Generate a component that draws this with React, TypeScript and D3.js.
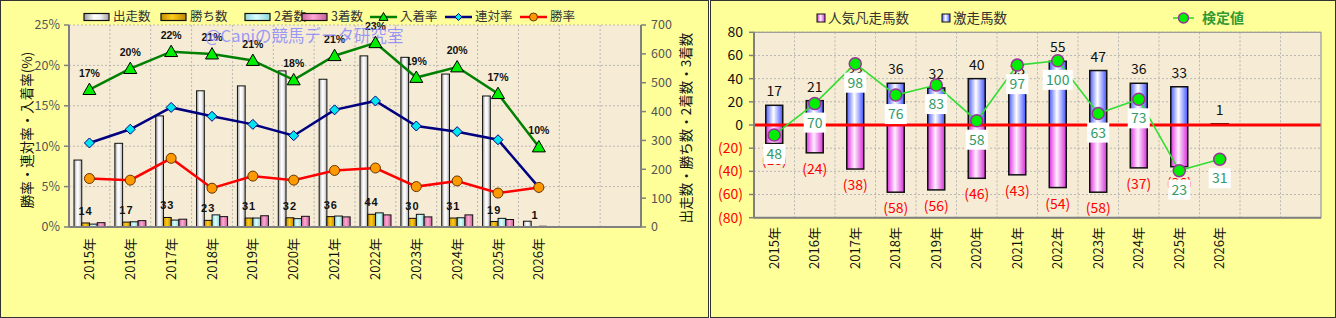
import React from "react";
import * as d3 from "d3";

// ---------- data ----------
const years = ["2015年", "2016年", "2017年", "2018年", "2019年", "2020年", "2021年", "2022年", "2023年", "2024年", "2025年", "2026年"];
const runs = [232, 290, 385, 472, 489, 541, 512, 593, 588, 530, 454, 20];
const wins = [14, 17, 33, 23, 31, 32, 36, 44, 30, 31, 19, 1];
const seconds = [10, 18, 24, 42, 31, 29, 38, 49, 44, 32, 30, 0];
const thirds = [15, 22, 27, 36, 39, 37, 35, 42, 35, 42, 26, 1];
const winRate = [6.0, 5.8, 8.5, 4.8, 6.3, 5.8, 7.0, 7.3, 5.0, 5.7, 4.2, 4.9];
const rentaiRate = [10.4, 12.1, 14.8, 13.7, 12.7, 11.3, 14.5, 15.6, 12.5, 11.8, 10.8, 4.9];
const placeRate = [17.0, 19.6, 21.7, 21.4, 20.6, 18.2, 21.2, 22.8, 18.5, 19.8, 16.5, 9.9];
const placeRateLabels = ["17%", "20%", "22%", "21%", "21%", "18%", "21%", "23%", "19%", "20%", "17%", "10%"];
const leftTicks = [0, 5, 10, 15, 20, 25];
const rightTicks = [0, 100, 200, 300, 400, 500, 600, 700];

const gekisou = [17, 21, 33, 36, 32, 40, 35, 55, 47, 36, 33, 1];
const bonsou = [16, 24, 38, 58, 56, 46, 43, 54, 58, 37, 36, 0];
const testValues = [48, 70, 98, 76, 83, 58, 97, 100, 63, 73, 23, 31];
const rTicks = [80, 60, 40, 20, 0, -20, -40, -60, -80];

const SLOTS = 14;
const FONT = '"Noto Sans CJK JP", "Noto Sans", sans-serif';

export default function App() {
  // ---- left chart scales ----
  const L = { x0: 69, x1: 641, top: 25, bottom: 227 };
  const xL = d3.scaleBand<number>().domain(d3.range(SLOTS)).range([L.x0, L.x1]);
  const yPct = d3.scaleLinear().domain([0, 25]).range([L.bottom, L.top]);
  const yCnt = d3.scaleLinear().domain([0, 700]).range([L.bottom, L.top]);
  const inner = d3.scaleBand<string>().domain(["runs", "wins", "second", "third"]).range([5, 36]);
  const bw = inner.bandwidth();
  const cxL = (i: number) => (xL(i) as number) + xL.bandwidth() / 2;

  const lineGen = (vals: number[]) =>
    d3.line<number>().x((_, i) => cxL(i)).y((v) => yPct(v))(vals) as string;

  const series = [
    { key: "runs", vals: runs, fill: "url(#gRuns)" },
    { key: "wins", vals: wins, fill: "url(#gWins)" },
    { key: "second", vals: seconds, fill: "url(#g2nd)" },
    { key: "third", vals: thirds, fill: "url(#g3rd)" },
  ];

  // ---- right chart scales ----
  const R = { x0: 754, x1: 1321, top: 32.3, bottom: 217.7 };
  const xR = d3.scaleBand<number>().domain(d3.range(SLOTS)).range([R.x0, R.x1]);
  const yR = d3.scaleLinear().domain([-80, 80]).range([R.bottom, R.top]);
  const yT = d3.scaleLinear().domain([-10, 120]).range([R.bottom, R.top]);
  const cxR = (i: number) => (xR(i) as number) + xR.bandwidth() / 2;
  const rbw = 17;
  const testLine = d3.line<number>().x((_, i) => cxR(i)).y((v) => yT(v))(testValues) as string;

  const tri = (x: number, y: number, s = 6.5) =>
    `M${x},${y - s} L${x + s},${y + s * 0.75} L${x - s},${y + s * 0.75} Z`;
  const dia = (x: number, y: number, s = 5) =>
    `M${x},${y - s} L${x + s},${y} L${x},${y + s} L${x - s},${y} Z`;

  const legendL = [
    { t: "出走数", x: 84, fill: "url(#gRuns)" },
    { t: "勝ち数", x: 161, fill: "url(#gWins)" },
    { t: "2着数", x: 245, fill: "url(#g2nd)" },
    { t: "3着数", x: 302, fill: "url(#g3rd)" },
  ];

  return (
    <svg
      width={1336}
      height={318}
      style={{ position: "absolute", left: 0, top: 0, display: "block" }}
      fontFamily={FONT}
    >
      <defs>
        <linearGradient id="gRuns" x1="0" x2="1" y1="0" y2="0">
          <stop offset="0" stopColor="#9c9c9c" />
          <stop offset="0.4" stopColor="#ffffff" />
          <stop offset="0.65" stopColor="#f2f2f2" />
          <stop offset="1" stopColor="#a4a4a4" />
        </linearGradient>
        <linearGradient id="gWins" x1="0" x2="1" y1="0" y2="0">
          <stop offset="0" stopColor="#c89000" />
          <stop offset="0.45" stopColor="#ffcc1a" />
          <stop offset="1" stopColor="#c08800" />
        </linearGradient>
        <linearGradient id="g2nd" x1="0" x2="1" y1="0" y2="0">
          <stop offset="0" stopColor="#8fd8d8" />
          <stop offset="0.45" stopColor="#dcffff" />
          <stop offset="1" stopColor="#8cd4d4" />
        </linearGradient>
        <linearGradient id="g3rd" x1="0" x2="1" y1="0" y2="0">
          <stop offset="0" stopColor="#cc6699" />
          <stop offset="0.45" stopColor="#ffa8d4" />
          <stop offset="1" stopColor="#c8629a" />
        </linearGradient>
        <linearGradient id="gBlue" x1="0" x2="1" y1="0" y2="0">
          <stop offset="0" stopColor="#4d5cff" />
          <stop offset="0.45" stopColor="#ffffff" />
          <stop offset="1" stopColor="#4455ff" />
        </linearGradient>
        <linearGradient id="gPink" x1="0" x2="1" y1="0" y2="0">
          <stop offset="0" stopColor="#e030e0" />
          <stop offset="0.45" stopColor="#ffeeff" />
          <stop offset="1" stopColor="#d830d8" />
        </linearGradient>
      </defs>

      {/* panels */}
      <rect x={0.5} y={0.5} width={708} height={317} fill="#ffff99" stroke="#333" />
      <rect x={710.5} y={0.5} width={625} height={317} fill="#ffff99" stroke="#333" />

      {/* ================= LEFT CHART ================= */}
      <rect x={L.x0} y={L.top} width={L.x1 - L.x0} height={L.bottom - L.top} fill="#f6ecd6" />
      {leftTicks.slice(1).map((t) => (
        <line key={"lg" + t} x1={L.x0} x2={L.x1} y1={yPct(t)} y2={yPct(t)} stroke="#aaa" strokeWidth={0.8} strokeDasharray="2,2" />
      ))}
      {d3.range(1, SLOTS).map((i) => (
        <line key={"lv" + i} x1={xL(i) as number} x2={xL(i) as number} y1={L.top} y2={L.bottom} stroke="#aaa" strokeWidth={0.8} strokeDasharray="2,2" />
      ))}

      {/* 入着率 labels (behind bars) */}
      {placeRate.map((v, i) => (
        <text key={"pl" + i} x={cxL(i)} y={yPct(v) - 13} textAnchor="middle" fontSize={10.5} fontWeight="bold" fontFamily="Liberation Sans, sans-serif" fill="#111">
          {placeRateLabels[i]}
        </text>
      ))}

      {/* watermark */}
      <text x={205} y={42} fontSize={16.5} fill="#7b7bff" fillOpacity={0.75}>@Caniの競馬データ研究室</text>

      {/* bars */}
      {series.map((s) =>
        s.vals.map((v, i) =>
          v > 0 ? (
            <rect
              key={s.key + i}
              x={(xL(i) as number) + (inner(s.key) as number)}
              y={yCnt(v)}
              width={bw}
              height={L.bottom - yCnt(v)}
              fill={s.fill}
              stroke="#111"
              strokeWidth={1}
            />
          ) : (
            <line key={s.key + i} x1={(xL(i) as number) + (inner(s.key) as number)} x2={(xL(i) as number) + (inner(s.key) as number) + bw} y1={L.bottom - 0.5} y2={L.bottom - 0.5} stroke="#111" strokeWidth={1.5} />
          )
        )
      )}

      {/* lines */}
      <path d={lineGen(placeRate)} fill="none" stroke="#008000" strokeWidth={2.5} />
      <path d={lineGen(rentaiRate)} fill="none" stroke="#000080" strokeWidth={2.5} />
      <path d={lineGen(winRate)} fill="none" stroke="#ff0000" strokeWidth={2.5} />
      {placeRate.map((v, i) => (
        <path key={"tm" + i} d={tri(cxL(i), yPct(v))} fill="#00ee00" stroke="#000" strokeWidth={1} />
      ))}
      {rentaiRate.map((v, i) => (
        <path key={"dm" + i} d={dia(cxL(i), yPct(v))} fill="#00e5ee" stroke="#000080" strokeWidth={1} />
      ))}
      {winRate.map((v, i) => (
        <circle key={"cm" + i} cx={cxL(i)} cy={yPct(v)} r={5} fill="#ff9900" stroke="#663300" strokeWidth={1} />
      ))}

      {/* wins labels */}
      {wins.map((v, i) => (
        <text key={"wl" + i} x={(xL(i) as number) + (inner("wins") as number) + bw / 2} y={yCnt(v) - 8} textAnchor="middle" fontSize={11} fontWeight="bold" letterSpacing={1} fontFamily="Liberation Sans, sans-serif" fill="#111">
          {v}
        </text>
      ))}

      {/* axes */}
      <line x1={L.x0} x2={L.x0} y1={L.top} y2={L.bottom} stroke="#808080" strokeWidth={2} />
      <line x1={L.x1} x2={L.x1} y1={L.top} y2={L.bottom} stroke="#808080" strokeWidth={2} />
      <line x1={L.x0} x2={L.x1} y1={L.bottom} y2={L.bottom} stroke="#808080" strokeWidth={2} />
      {leftTicks.map((t) => (
        <g key={"lt" + t}>
          <line x1={L.x0 - 5} x2={L.x0} y1={yPct(t)} y2={yPct(t)} stroke="#808080" strokeWidth={1.5} />
          <text x={60} y={yPct(t)} dy="0.35em" textAnchor="end" fontSize={12.5} fill="#555">{t}%</text>
        </g>
      ))}
      {rightTicks.map((t) => (
        <g key={"rt" + t}>
          <line x1={L.x1} x2={L.x1 + 5} y1={yCnt(t)} y2={yCnt(t)} stroke="#808080" strokeWidth={1.5} />
          <text x={651} y={yCnt(t)} dy="0.35em" textAnchor="start" fontSize={12.5} fill="#555">{t}</text>
        </g>
      ))}
      {years.map((y, i) => (
        <text key={"lx" + i} transform={`translate(${cxL(i)},238) rotate(-90)`} textAnchor="end" dy="0.35em" fontSize={13} fill="#111">{y}</text>
      ))}
      <text transform="translate(27,130) rotate(-90)" textAnchor="middle" dy="0.35em" fontSize={13.5} fill="#111">勝率・連対率・入着率(%)</text>
      <text transform="translate(686,128) rotate(-90)" textAnchor="middle" dy="0.35em" fontSize={13.5} fill="#111">出走数・勝ち数・2着数・3着数</text>

      {/* left legend */}
      {legendL.map((l) => (
        <g key={l.t}>
          <rect x={l.x} y={13.5} width={25} height={7} fill={l.fill} stroke="#111" strokeWidth={1.2} />
          <text x={l.x + 29} y={17} dy="0.35em" fontSize={12.5} fill="#333">{l.t}</text>
        </g>
      ))}
      <line x1={370} x2={397} y1={17} y2={17} stroke="#008000" strokeWidth={2.5} />
      <path d={tri(383.5, 17, 4.5)} fill="#00ee00" stroke="#000" strokeWidth={1} />
      <text x={400} y={17} dy="0.35em" fontSize={12.5} fill="#333">入着率</text>
      <line x1={445} x2={472} y1={17} y2={17} stroke="#000080" strokeWidth={2.5} />
      <path d={dia(458.5, 17, 3.5)} fill="#00e5ee" stroke="#000080" strokeWidth={1} />
      <text x={475} y={17} dy="0.35em" fontSize={12.5} fill="#333">連対率</text>
      <line x1={520} x2={547} y1={17} y2={17} stroke="#ff0000" strokeWidth={2.5} />
      <circle cx={533.5} cy={17} r={4} fill="#ff9900" stroke="#663300" strokeWidth={1} />
      <text x={550} y={17} dy="0.35em" fontSize={12.5} fill="#333">勝率</text>

      {/* ================= RIGHT CHART ================= */}
      <rect x={R.x0} y={R.top} width={R.x1 - R.x0} height={R.bottom - R.top} fill="#f6ecd6" />
      {rTicks.map((t) => (
        <line key={"rg" + t} x1={R.x0} x2={R.x1} y1={yR(t)} y2={yR(t)} stroke="#aaa" strokeWidth={0.8} strokeDasharray="2,2" />
      ))}
      {d3.range(1, SLOTS).map((i) => (
        <line key={"rv" + i} x1={xR(i) as number} x2={xR(i) as number} y1={R.top} y2={R.bottom} stroke="#aaa" strokeWidth={0.8} strokeDasharray="2,2" />
      ))}

      {gekisou.map((v, i) =>
        v > 0 ? (
          <rect key={"gb" + i} x={cxR(i) - rbw / 2} y={yR(v)} width={rbw} height={yR(0) - yR(v)} fill="url(#gBlue)" stroke="#111" strokeWidth={1.5} />
        ) : null
      )}
      {bonsou.map((v, i) =>
        v > 0 ? (
          <rect key={"bb" + i} x={cxR(i) - rbw / 2} y={yR(0)} width={rbw} height={yR(-v) - yR(0)} fill="url(#gPink)" stroke="#111" strokeWidth={1.5} />
        ) : null
      )}
      {gekisou.map((v, i) => (
        <text key={"gl" + i} x={cxR(i)} y={yR(v) - 9} textAnchor="middle" fontSize={14} fill="#111">{v}</text>
      ))}
      {bonsou.map((v, i) =>
        v > 0 ? (
          <text key={"bl" + i} x={cxR(i)} y={yR(-v) + 21} textAnchor="middle" fontSize={14} fill="#ff0000">({v})</text>
        ) : null
      )}
      <line x1={R.x0} x2={R.x1} y1={yR(0)} y2={yR(0)} stroke="#ff0000" strokeWidth={3} />

      <path d={testLine} fill="none" stroke="#33dd33" strokeWidth={1.6} />
      {testValues.map((v, i) => (
        <circle key={"tc" + i} cx={cxR(i)} cy={yT(v)} r={6} fill="#00ee00" stroke="#993399" strokeWidth={1.5} />
      ))}
      {testValues.map((v, i) => {
        const w = String(v).length > 2 ? 30 : 22;
        return (
          <g key={"tl" + i}>
            <rect x={cxR(i) - w / 2} y={yT(v) + 9} width={w} height={20} fill="#ffffff" />
            <text x={cxR(i)} y={yT(v) + 19} dy="0.36em" textAnchor="middle" fontSize={14} fill="#339966">{v}</text>
          </g>
        );
      })}

      {/* right axes */}
      <rect x={R.x0} y={R.top} width={R.x1 - R.x0} height={R.bottom - R.top} fill="none" stroke="#999" strokeWidth={1.2} />
      <line x1={R.x0} x2={R.x0} y1={R.top} y2={R.bottom} stroke="#808080" strokeWidth={2} />
      <line x1={R.x0} x2={R.x1} y1={R.bottom} y2={R.bottom} stroke="#808080" strokeWidth={2} />
      {rTicks.map((t) => (
        <g key={"rtk" + t}>
          <line x1={R.x0 - 5} x2={R.x0} y1={yR(t)} y2={yR(t)} stroke="#808080" strokeWidth={1.5} />
          <text x={743} y={yR(t)} dy="0.35em" textAnchor="end" fontSize={14} fill={t < 0 ? "#ff0000" : "#111"}>
            {t < 0 ? `(${-t})` : t}
          </text>
        </g>
      ))}
      {years.map((y, i) => (
        <text key={"rx" + i} transform={`translate(${cxR(i)},227) rotate(-90)`} textAnchor="end" dy="0.35em" fontSize={13} fill="#111">{y}</text>
      ))}

      {/* right legend */}
      <rect x={817} y={14} width={8} height={8} fill="url(#gPink)" stroke="#111" strokeWidth={1} />
      <text x={828} y={18} dy="0.35em" fontSize={13.5} fill="#333">人気凡走馬数</text>
      <rect x={942} y={14} width={8} height={8} fill="url(#gBlue)" stroke="#111" strokeWidth={1} />
      <text x={953} y={18} dy="0.35em" fontSize={13.5} fill="#333">激走馬数</text>
      <line x1={1173} x2={1194} y1={18} y2={18} stroke="#33dd33" strokeWidth={1.6} />
      <circle cx={1183.5} cy={18} r={5} fill="#00ee00" stroke="#993399" strokeWidth={1.5} />
      <text x={1202} y={18} dy="0.35em" fontSize={14} fontWeight="bold" fill="#339933">検定値</text>
    </svg>
  );
}
